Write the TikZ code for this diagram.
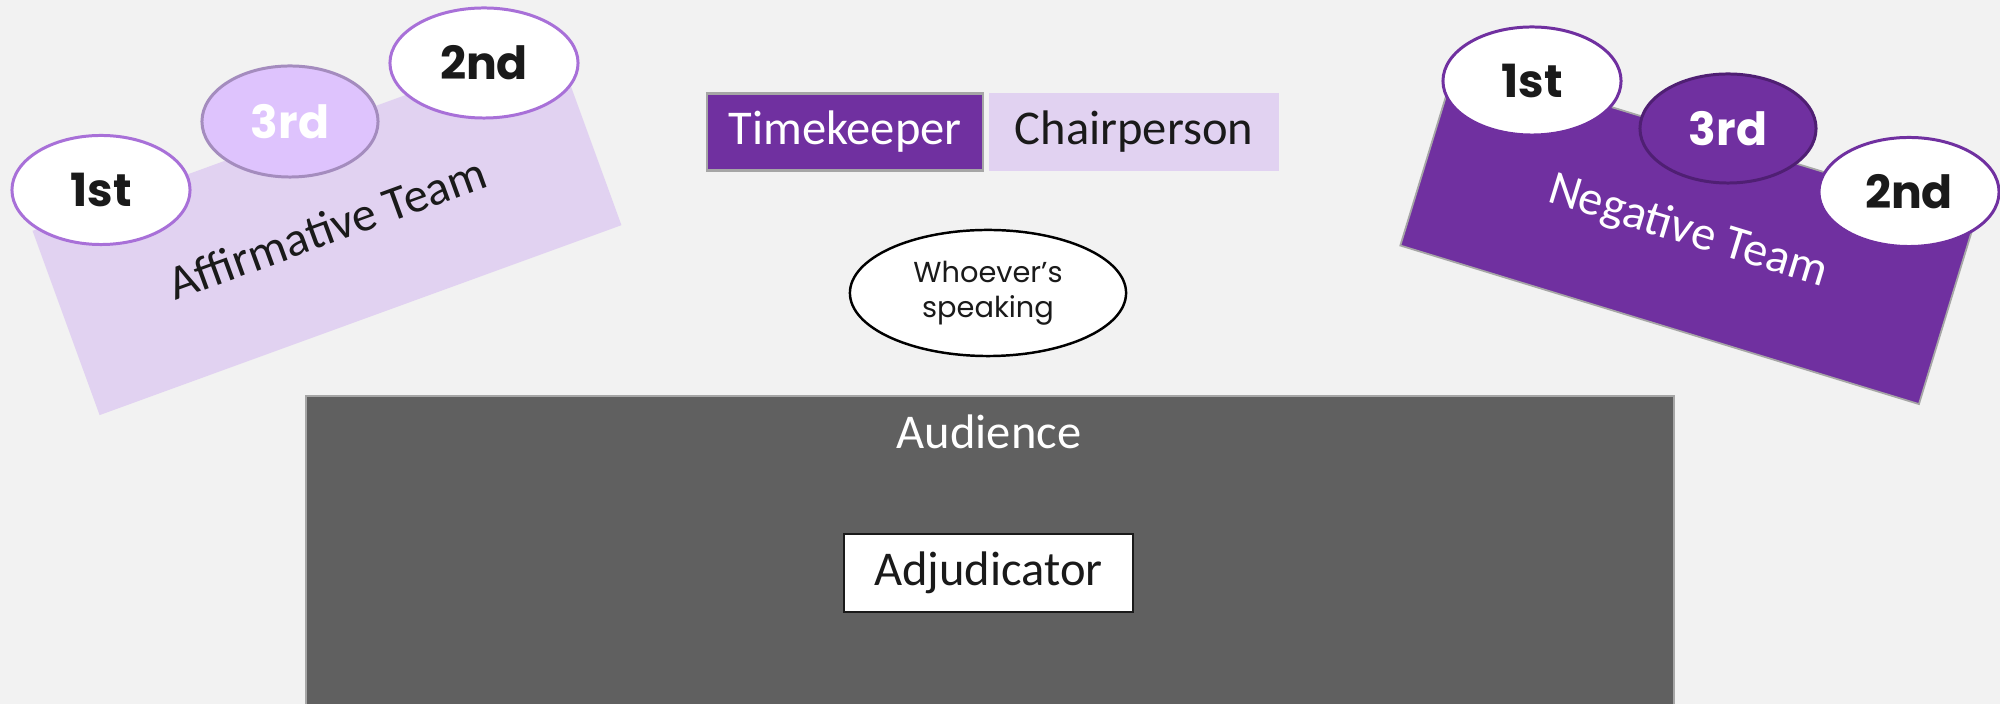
\documentclass[tikz,border=0pt]{standalone}
\usepackage{fontspec}
\setmainfont{Carlito}
\newfontfamily\popp{Poppins}
\usetikzlibrary{shapes.geometric}
\definecolor{bg}{HTML}{F2F2F2}
\definecolor{purp}{HTML}{7030A0}
\definecolor{lav}{HTML}{E1D2F1}
\definecolor{affline}{HTML}{A870D8}
\definecolor{aff3fill}{HTML}{DEC3FD}
\definecolor{aff3line}{HTML}{A48CBE}
\definecolor{neg3line}{HTML}{4F1F73}
\definecolor{audfill}{HTML}{606060}
\definecolor{edgegray}{HTML}{A6A6A6}
\definecolor{ink}{HTML}{1A1A1A}
\begin{document}
\begin{tikzpicture}[x=0.01cm,y=-0.01cm,
  calib/.style={font=\fontsize{13.8}{16}\selectfont},
  team/.style={rectangle, inner sep=0pt, calib},
  seat/.style={ellipse, inner sep=0pt, line width=0.85pt, font=\popp\bfseries\fontsize{13}{15}\selectfont},
  affseat/.style={seat, draw=affline, fill=white, text=ink},
  negseat/.style={seat, draw=purp, fill=white, text=ink},
  rolebox/.style={rectangle, inner sep=0pt, minimum height=0.77cm, calib}
]
\useasboundingbox (0,0) rectangle (2000,704);
\fill[bg] (0,0) rectangle (2000,704);

% audience
\node[rectangle, fill=audfill, draw=edgegray, line width=0.6pt, minimum width=13.68cm, minimum height=3.44cm, inner sep=0pt] (aud) at (990,568) {};
\node[anchor=base, text=white, calib, inner sep=0pt] (audlbl) at (989,449) {Audience};
\node[rectangle, fill=white, draw=ink, line width=0.7pt, minimum width=2.89cm, minimum height=0.78cm, inner sep=0pt, calib, text=ink] (adj) at (988.5,573) {Adjudicator};

% teams
\node[team, fill=lav, text=ink, minimum width=5.55cm, minimum height=1.96cm, rotate=20] (aff) at (327,228) {Affirmative Team};
\node[team, fill=purp, draw=edgegray, line width=0.5pt, text=white, minimum width=5.42cm, minimum height=1.94cm, rotate=-17] (neg) at (1688,232) {Negative Team};

% affirmative seats
\node[affseat, minimum width=1.78cm, minimum height=1.09cm] (aff1) at (101,190) {1st};
\node[seat, draw=aff3line, fill=aff3fill, text=white, minimum width=1.76cm, minimum height=1.11cm] (aff3) at (290,121.5) {3rd};
\node[affseat, minimum width=1.88cm, minimum height=1.10cm] (aff2) at (484,63) {2nd};

% negative seats
\node[negseat, minimum width=1.78cm, minimum height=1.08cm] (neg1) at (1532,81) {1st};
\node[seat, draw=neg3line, fill=purp, text=white, minimum width=1.76cm, minimum height=1.09cm] (neg3) at (1728,128.5) {3rd};
\node[negseat, minimum width=1.80cm, minimum height=1.09cm] (neg2) at (1909,192) {2nd};

% officials
\node[rolebox, fill=purp, draw=edgegray, line width=0.6pt, minimum width=2.75cm, text=white] (tk) at (845,132) {Timekeeper};
\node[rolebox, fill=lav, minimum width=2.90cm, text=ink] (chair) at (1134,132) {Chairperson};

% speaker
\node[ellipse, fill=white, draw=black, line width=0.7pt, minimum width=2.76cm, minimum height=1.26cm, inner sep=0pt, align=center, text=ink, font=\popp\fontsize{8.2}{10}\selectfont] (spk) at (988,293) {Whoever’s\\speaking};
\end{tikzpicture}
\end{document}
